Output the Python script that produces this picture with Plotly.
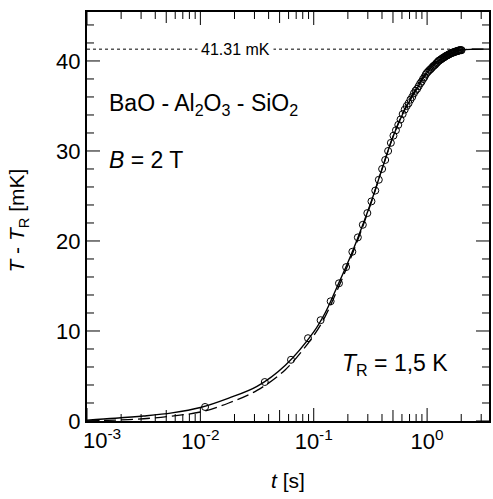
import math
import plotly.graph_objects as go

# Measured relaxation points (time in s, temperature rise in mK)
t_meas = [0.011, 0.037, 0.063, 0.089, 0.115, 0.141, 0.167, 0.193, 0.219, 0.245,
          0.271, 0.297, 0.323, 0.349, 0.375, 0.401, 0.427, 0.453, 0.479, 0.505,
          0.531, 0.557, 0.583, 0.609, 0.635, 0.661, 0.687, 0.713, 0.739, 0.765,
          0.791, 0.817, 0.843, 0.869, 0.895, 0.921, 0.947, 0.973, 0.999, 1.025,
          1.051, 1.077, 1.103, 1.129, 1.155, 1.181, 1.207, 1.233, 1.259, 1.285,
          1.311, 1.337, 1.363, 1.389, 1.415, 1.441, 1.467, 1.493, 1.519, 1.545,
          1.571, 1.597, 1.623, 1.649, 1.675, 1.701, 1.727, 1.753, 1.779, 1.805,
          1.831, 1.857, 1.883, 1.909, 1.935, 1.961, 1.987, 2.013]
dT_meas = [1.56, 4.33, 6.8, 9.2, 11.2, 13.3, 15.3, 17.1, 18.8, 20.4,
           21.8, 23.1, 24.4, 25.6, 26.8, 28.0, 29.0, 30.0, 30.9, 31.7,
           32.3, 32.9, 33.5, 34.1, 34.6, 35.0, 35.3, 35.7, 36.0, 36.4,
           36.7, 36.9, 37.2, 37.5, 37.7, 38.0, 38.2, 38.5, 38.7, 38.85,
           39.0, 39.1, 39.25, 39.4, 39.5, 39.6, 39.75, 39.85, 40.0, 40.05,
           40.15, 40.2, 40.3, 40.35, 40.4, 40.5, 40.55, 40.6, 40.65, 40.7,
           40.75, 40.8, 40.85, 40.9, 40.9, 40.95, 41.0, 41.0, 41.05, 41.05,
           41.1, 41.1, 41.15, 41.15, 41.2, 41.2, 41.2, 41.2]

# Model curves
t_fit = [0.001, 0.00178, 0.00316, 0.00562, 0.01, 0.0178, 0.0316, 0.0562, 0.1,
         0.126, 0.158, 0.2, 0.251, 0.316, 0.398, 0.501, 0.631, 0.794, 1.0,
         1.259, 1.585, 1.995, 2.512, 3.55]
dT_fit_solid = [0.1, 0.3, 0.55, 0.9, 1.5, 2.55, 3.85, 6.2, 9.9,
                12.0, 14.7, 17.6, 20.7, 24.1, 27.9, 31.6, 34.5, 36.7, 38.7,
                40.0, 40.8, 41.2, 41.3, 41.31]
dT_fit_dashed = [0.0, 0.1, 0.25, 0.55, 1.0, 2.0, 3.4, 5.7, 9.5,
                 11.6, 14.3, 17.3, 20.5, 24.0, 27.9, 31.6, 34.6, 36.9, 38.9,
                 40.2, 40.9, 41.25, 41.3, 41.31]

dT_max = 41.31
t_level = [0.001, 1.9]

# Tick positions
x_major = [0.001, 0.01, 0.1, 1.0]
x_major_text = ["", "10<sup>-2</sup>", "10<sup>-1</sup>", "10<sup>0</sup>"]
x_mid = [0.005, 0.05, 0.5]
x_minor = [m * d for d in [0.001, 0.01, 0.1, 1.0] for m in (2, 3, 4, 6, 7, 8, 9)]
y_major = [0, 10, 20, 30, 40]
y_minor = [v for v in range(2, 46, 2) if v % 10]

FONT = "Liberation Sans, Arial, sans-serif"
x_range = [-3, 0.546]
y_range = [0, 45.44]
MARGIN = dict(l=87, r=4, t=12, b=78)
W, H = 493, 499
plot_w = W - MARGIN["l"] - MARGIN["r"]
plot_h = H - MARGIN["t"] - MARGIN["b"]

fig = go.Figure()

fig.add_trace(go.Scatter(
    x=t_level, y=[dT_max, dT_max], mode="lines",
    line=dict(color="black", width=1, dash="dot"), showlegend=False))

fig.add_trace(go.Scatter(
    x=t_meas, y=dT_meas, mode="markers",
    marker=dict(symbol="circle-open", size=7, color="black", line=dict(width=1)),
    showlegend=False))

fig.add_trace(go.Scatter(
    x=t_fit, y=dT_fit_dashed, mode="lines", line_shape="spline",
    line=dict(color="black", width=1.3, dash="12px,5px"), showlegend=False))

fig.add_trace(go.Scatter(
    x=t_fit, y=dT_fit_solid, mode="lines", line_shape="spline",
    line=dict(color="black", width=1.4), showlegend=False))


# Inward tick marks on all four sides of the frame
def x_frac(v):
    return (math.log10(v) - x_range[0]) / (x_range[1] - x_range[0])


def y_frac(v):
    return (v - y_range[0]) / (y_range[1] - y_range[0])


tick_shapes = []
for vals, length in ((x_major, 13), (x_mid, 11), (x_minor, 7)):
    dy = length / plot_h
    for v in vals:
        px = x_frac(v)
        if not 0 <= px <= 1:
            continue
        for y0, y1 in ((0, dy), (1 - dy, 1)):
            tick_shapes.append(dict(type="line", xref="paper", yref="paper",
                                    x0=px, x1=px, y0=y0, y1=y1, layer="above",
                                    line=dict(color="black", width=1)))
for vals, length in ((y_major, 13), (y_minor, 7)):
    dx = length / plot_w
    for v in vals:
        py = y_frac(v)
        for x0, x1 in ((0, dx), (1 - dx, 1)):
            tick_shapes.append(dict(type="line", xref="paper", yref="paper",
                                    x0=x0, x1=x1, y0=py, y1=py, layer="above",
                                    line=dict(color="black", width=1)))

fig.update_layout(
    width=W, height=H,
    margin=MARGIN,
    paper_bgcolor="white", plot_bgcolor="white",
    font=dict(family=FONT, color="black", size=22),
    shapes=tick_shapes,
    xaxis=dict(
        type="log", range=x_range, automargin=False,
        showgrid=False, zeroline=False,
        showline=True, linecolor="black", linewidth=2, mirror=True,
        ticks="", tickvals=x_major, ticktext=x_major_text,
    ),
    yaxis=dict(
        range=y_range, automargin=False,
        showgrid=False, zeroline=False,
        showline=True, linecolor="black", linewidth=2, mirror=True,
        ticks="", tickvals=y_major,
    ),
)

# axis titles
fig.add_annotation(
    x=0.5, xref="paper", y=-59 / plot_h, yref="paper",
    text="<i>t</i> [s]", showarrow=False, xanchor="center", yanchor="middle",
    font=dict(size=21, family=FONT))

fig.add_annotation(
    x=-69 / plot_w, xref="paper", y=0.49, yref="paper",
    text="<i>T</i> - <i>T</i><sub>R</sub> [mK]", showarrow=False,
    textangle=-90, xanchor="center", yanchor="middle",
    font=dict(size=21, family=FONT))

fig.add_annotation(
    x=0.037, xref="paper", y=0, yref="paper",
    text="10<sup>-3</sup>", showarrow=False, xanchor="center", yanchor="top",
    yshift=-2, font=dict(size=22, family=FONT))

fig.add_annotation(
    x=0.37, xref="paper", y=dT_max, yref="y",
    text="41.31 mK", showarrow=False, bgcolor="white",
    font=dict(size=16, family=FONT), xanchor="center", yanchor="middle",
    borderpad=3)

fig.add_annotation(
    x=0.05, xref="paper", y=0.773, yref="paper",
    text="BaO - Al<sub>2</sub>O<sub>3</sub> - SiO<sub>2</sub>",
    showarrow=False, xanchor="left", yanchor="middle",
    font=dict(size=23, family=FONT))

fig.add_annotation(
    x=0.05, xref="paper", y=0.638, yref="paper",
    text="<i>B</i> = 2 T", showarrow=False, xanchor="left", yanchor="middle",
    font=dict(size=23, family=FONT))

fig.add_annotation(
    x=0.629, xref="paper", y=0.137, yref="paper",
    text="<i>T</i><sub>R</sub> = 1,5 K", showarrow=False,
    xanchor="left", yanchor="middle",
    font=dict(size=23, family=FONT))

fig.write_html("out.html")
